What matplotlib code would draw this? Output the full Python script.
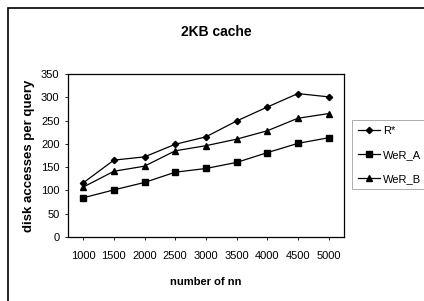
import numpy as np
import matplotlib.pyplot as plt
from matplotlib.patches import Rectangle

plt.rcParams['font.family'] = ['Liberation Sans', 'DejaVu Sans']

# dados
nn = ['1000', '1500', '2000', '2500', '3000', '3500', '4000', '4500', '5000']
r_star = [116, 165, 172, 199, 215, 249, 279, 308, 301]
wer_a = [84, 101, 117, 139, 147, 160, 181, 201, 213]
wer_b = [107, 141, 152, 185, 196, 210, 228, 255, 265]

fig = plt.figure(figsize=(4.24, 3.01), dpi=100)
ax = fig.add_axes([0.160, 0.213, 0.651, 0.541])

x = np.arange(len(nn))
ax.plot(x, r_star, color='black', lw=0.9, marker='D', ms=3.2, label='R*')
ax.plot(x, wer_a, color='black', lw=0.9, marker='s', ms=4, label='WeR_A')
ax.plot(x, wer_b, color='black', lw=0.9, marker='^', ms=4, label='WeR_B')

ax.set_xlim(-0.5, len(nn) - 0.5)
ax.set_ylim(0, 350)
ax.set_yticks(range(0, 351, 50))
ax.set_xticks(x)
ax.set_xticklabels(nn)
ax.tick_params(labelsize=8, length=2, width=0.6, pad=8)
ax.tick_params(axis='y', pad=4)
for s in ax.spines.values():
    s.set_linewidth(0.9)

ax.set_xlabel('number of nn', fontsize=8, fontweight='bold', labelpad=12)
ax.set_ylabel('disk accesses per query', fontsize=9.5, fontweight='bold', labelpad=4)
fig.text(0.51, 0.893, '2KB cache', ha='center', va='center', fontsize=10, fontweight='bold')

leg = ax.legend(loc='upper left', bbox_to_anchor=(1.03, 0.715), fontsize=8,
                frameon=True, fancybox=False, edgecolor='#888888',
                handlelength=2.0, handletextpad=0.3, borderaxespad=0,
                labelspacing=1.25, borderpad=0.5)
leg.get_frame().set_linewidth(0.6)

# moldura externa
fig.patches.append(Rectangle((0.019, -0.1), 1.2, 1.073, transform=fig.transFigure,
                             fill=False, lw=1.2, edgecolor='black'))

fig.savefig('out.png', dpi=100)
